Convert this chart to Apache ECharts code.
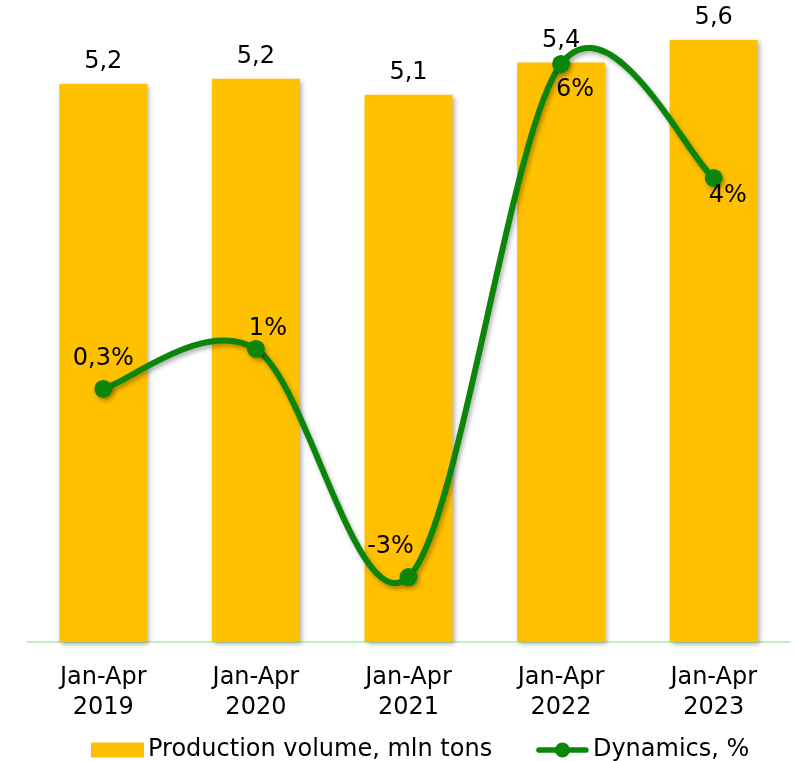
<!DOCTYPE html>
<html>
<head>
<meta charset="utf-8">
<script src="https://cdn.jsdelivr.net/npm/echarts@6/dist/echarts.min.js"></script>
<style>
  html, body { margin: 0; padding: 0; background: #fff; }
  #chart { width: 795px; height: 761px; }
</style>
</head>
<body>
<div id="chart"></div>
<script>
// Production volume (mln tons) and year-on-year dynamics (%), January–April
const categories = ['Jan-Apr\n2019', 'Jan-Apr\n2020', 'Jan-Apr\n2021', 'Jan-Apr\n2022', 'Jan-Apr\n2023'];
const volume = [5.19, 5.24, 5.09, 5.39, 5.6];
const dynamics = [0.3, 1, -3, 6, 4];

// Label placement for each point of the dynamics line
const dynLabelOffsets = [[0, -30], [12, -20], [-18, -30], [14, 26], [14, 18]];

const FONT = 'DejaVu Sans';
const GREEN = '#0B860B';
const comma = v => String(v).replace('.', ',');

// Legend glyph for the dynamics series: thick line with a dot in the middle
const lineDotIcon = 'path://M3,5H53A3,3 0 0,1 53,11H3A3,3 0 0,1 3,5Z M20,8A8,8 0 1,1 36,8A8,8 0 1,1 20,8Z';

// Cardinal (Catmull-Rom style) curve through the points, allowing overshoot
function renderSmoothLine(params, api) {
  if (params.dataIndex !== 0) return null;
  const pts = dynamics.map((v, i) => api.coord([i, v]));
  const n = pts.length;
  const children = [];
  const k = 1 / 6;
  for (let i = 0; i < n - 1; i++) {
    const p0 = pts[Math.max(i - 1, 0)];
    const p1 = pts[i];
    const p2 = pts[i + 1];
    const p3 = pts[Math.min(i + 2, n - 1)];
    children.push({
      type: 'bezierCurve',
      z2: 10,
      shape: {
        x1: p1[0], y1: p1[1],
        cpx1: p1[0] + (p2[0] - p0[0]) * k, cpy1: p1[1] + (p2[1] - p0[1]) * k,
        cpx2: p2[0] - (p3[0] - p1[0]) * k, cpy2: p2[1] - (p3[1] - p1[1]) * k,
        x2: p2[0], y2: p2[1]
      },
      style: {
        stroke: GREEN,
        fill: null,
        lineWidth: 6,
        lineCap: 'round',
        shadowColor: 'rgba(0,0,0,0.3)',
        shadowBlur: 4,
        shadowOffsetX: 2,
        shadowOffsetY: 3
      }
    });
  }
  return { type: 'group', children };
}

const chart = echarts.init(document.getElementById('chart'));
chart.setOption({
  animation: false,
  textStyle: { fontFamily: FONT },
  grid: { left: 27, right: 5, top: 40, bottom: 119, containLabel: false },
  legend: {
    top: 733,
    left: 86,
    itemGap: 44,
    itemWidth: 53,
    itemHeight: 15,
    textStyle: { fontFamily: FONT, fontSize: 24, color: '#000', padding: [0, 0, 0, -1] },
    data: [
      { name: 'Production volume, mln tons', icon: 'rect' },
      { name: 'Dynamics, %', icon: lineDotIcon }
    ]
  },
  xAxis: {
    type: 'category',
    data: categories,
    axisLine: { lineStyle: { color: '#bff2bf', width: 2 } },
    axisTick: { show: false },
    axisLabel: { fontFamily: FONT, fontSize: 24, color: '#000', lineHeight: 30, margin: 21 }
  },
  yAxis: [
    { type: 'value', min: 0, max: 5.6, show: false, splitLine: { show: false } },
    { type: 'value', min: -4.14, max: 6.42, show: false, splitLine: { show: false } }
  ],
  series: [
    {
      name: 'Production volume, mln tons',
      type: 'bar',
      data: volume,
      barWidth: 88,
      z: 2,
      itemStyle: {
        color: '#FFC000',
        shadowColor: 'rgba(0,0,0,0.35)',
        shadowBlur: 5,
        shadowOffsetX: 2,
        shadowOffsetY: 2
      },
      label: {
        show: true,
        position: 'top',
        distance: 10,
        fontFamily: FONT,
        fontSize: 24,
        color: '#000',
        formatter: p => comma(p.value.toFixed(1))
      }
    },
    {
      name: 'dynamics-curve',
      type: 'custom',
      yAxisIndex: 1,
      data: dynamics,
      renderItem: renderSmoothLine,
      silent: true,
      clip: false,
      z: 5
    },
    {
      name: 'Dynamics, %',
      type: 'line',
      yAxisIndex: 1,
      data: dynamics.map((v, i) => ({
        value: v,
        label: { offset: dynLabelOffsets[i] }
      })),
      symbol: 'circle',
      symbolSize: 18,
      lineStyle: { color: GREEN, width: 6, opacity: 0 },
      itemStyle: {
        color: GREEN,
        shadowColor: 'rgba(0,0,0,0.3)',
        shadowBlur: 4,
        shadowOffsetX: 2,
        shadowOffsetY: 3
      },
      label: {
        show: true,
        position: 'inside',
        fontFamily: FONT,
        fontSize: 24,
        color: '#000',
        formatter: p => comma(p.value) + '%'
      },
      z: 6
    }
  ]
});
</script>
</body>
</html>
